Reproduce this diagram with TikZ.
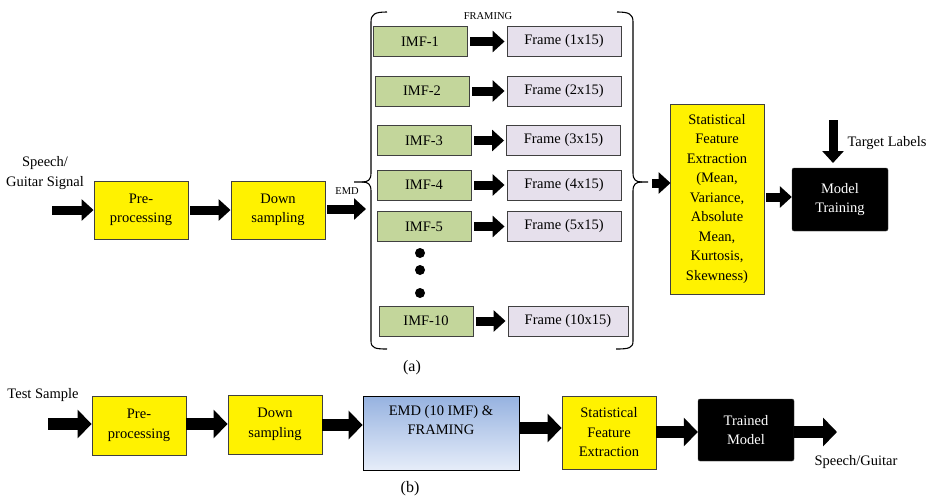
\documentclass[tikz,border=0pt]{standalone}
\usepackage{fontspec}
\setmainfont{Liberation Serif}
\usetikzlibrary{arrows.meta,shadings}
\definecolor{imfgreen}{RGB}{195,214,155}
\definecolor{frmlav}{RGB}{230,224,236}
\definecolor{boxline}{RGB}{64,64,64}
\definecolor{emdtop}{RGB}{150,178,224}
\definecolor{emdbot}{RGB}{230,237,249}
\begin{document}
\begin{tikzpicture}[x=1pt,y=-1pt,
  txt/.style={font=\fontsize{14.5}{19.5}\selectfont, align=center, inner sep=0pt},
  small/.style={font=\fontsize{10.5}{12}\selectfont, inner sep=0pt},
  yelbox/.style={txt, draw=boxline, line width=0.9pt, fill=yellow, minimum width=94pt},
  imfbox/.style={txt, draw=boxline, line width=0.9pt, fill=imfgreen, minimum width=94pt, minimum height=30pt},
  frmbox/.style={txt, draw=boxline, line width=0.9pt, fill=frmlav, minimum width=114pt, minimum height=30pt},
  blkbox/.style={txt, draw=boxline, fill=black, text=white, rounded corners=2pt, minimum width=96pt},
  barrow/.style={line width=9pt, -{Triangle[length=12pt,width=21pt]}},
  barrowb/.style={line width=12pt, -{Triangle[length=14pt,width=28pt]}},
  bracel/.style={line width=1.1pt}
]
\useasboundingbox (0,0) rectangle (931,498);

% ---------- (a) ----------
\node[txt] (sig) at (45,173) {Speech/\\Guitar Signal};
\node[yelbox, minimum height=58pt] (pre) at (141,210) {Pre-\\processing};
\node[yelbox, minimum height=58pt] (down) at (278,210) {Down\\sampling};
\coordinate (in1) at (52,210);
\coordinate (emdtip) at (366,209);
\draw[barrow] (in1) -- (pre.west);
\draw[barrow] ([xshift=2pt]pre.east) -- (down.west);
\draw[barrow] ([xshift=2pt]down.east |- emdtip) -- (emdtip);
\node[small] (emdlbl) at (347,191) {EMD};
\node[small] (framlbl) at (488,16) {FRAMING};

\node[imfbox] (imf1) at (420,41.5) {IMF-1};
\node[imfbox] (imf2) at (422,91) {IMF-2};
\node[imfbox] (imf3) at (424,140.5) {IMF-3};
\node[imfbox] (imf4) at (424,185) {IMF-4};
\node[imfbox] (imf5) at (424,226.5) {IMF-5};
\node[imfbox] (imf10) at (426,321) {IMF-10};

\node[frmbox] (f1) at (564,41.5) {Frame (1x15)};
\node[frmbox] (f2) at (564,91) {Frame (2x15)};
\node[frmbox] (f3) at (563.5,140.5) {Frame (3x15)};
\node[frmbox] (f4) at (564,185) {Frame (4x15)};
\node[frmbox] (f5) at (564,226.5) {Frame (5x15)};
\node[frmbox, minimum width=120pt] (f10) at (568,321) {Frame (10x15)};

\foreach \i in {1,2,3,4,5,10}{
  \draw[barrow] ([xshift=3pt]imf\i.east) -- ([xshift=-2pt]f\i.west);
}
\fill (420,253) circle (5pt);
\fill (420,270) circle (5pt);
\fill (420,293) circle (5pt);

% braces
\draw[bracel] (387,12) .. controls (375,12) and (371,14) .. (371,22) -- (371,173)
  .. controls (371,180) and (368,182) .. (362,182) -- (354,182);
\draw[bracel] (362,182) .. controls (368,182) and (371,184) .. (371,191) -- (371,341)
  .. controls (371,348) and (375,349) .. (387,349);
\draw[bracel] (617,12) .. controls (629,12) and (633,14) .. (633,22) -- (633,173)
  .. controls (633,180) and (636,182) .. (642,182) -- (648,182);
\draw[bracel] (642,182) .. controls (636,182) and (633,184) .. (633,191) -- (633,341)
  .. controls (633,348) and (629,349) .. (616,349);

\node[yelbox, minimum height=190pt] (stats) at (717,199)
  {Statistical\\Feature\\Extraction\\(Mean,\\Variance,\\Absolute\\Mean,\\Kurtosis,\\Skewness)};
\coordinate (rb) at (652,183);
\draw[barrow] (rb) -- ([xshift=1pt]stats.west |- rb);

\node[blkbox, minimum height=63pt] (model) at (840,199.5) {Model\\Training};
\draw[barrow] ([xshift=2pt]stats.east |- 0,197) -- (model.west |- 0,197);
\coordinate (tl) at (833,120);
\draw[barrow] (tl) -- (833,163);
\node[txt] (tlbl) at (887,143) {Target Labels};
\node[txt, font=\fontsize{16}{18}\selectfont] (capa) at (412,368) {(a)};

% ---------- (b) ----------
\node[txt] (test) at (43,395) {Test Sample};
\node[yelbox, minimum height=59pt] (pre2) at (139,425.5) {Pre-\\processing};
\node[yelbox, minimum height=59pt] (down2) at (275,424.5) {Down\\sampling};
\node[draw=black, line width=0.8pt, top color=emdtop, bottom color=emdbot,
  minimum width=156pt, minimum height=74pt, inner sep=0pt] (emd2) at (441,433) {};
\node[txt] (emd2txt) at (441,420) {EMD (10 IMF) \&\\FRAMING};
\node[yelbox, minimum height=73pt] (stats2) at (609,432.5) {Statistical\\Feature\\Extraction};
\node[blkbox, minimum height=62pt] (trained) at (746,430) {Trained\\Model};
\coordinate (in2) at (48,424);
\coordinate (out2) at (837,432);
\draw[barrowb] (in2) -- (pre2.west |- in2);
\draw[barrowb] (pre2.east |- 0,424) -- (down2.west |- 0,424);
\draw[barrowb] (down2.east |- 0,425) -- (emd2.west |- 0,425);
\draw[barrowb] (emd2.east |- 0,428) -- (stats2.west |- 0,428);
\draw[barrowb] (stats2.east |- 0,432) -- (trained.west |- 0,432);
\draw[barrowb] (trained.east |- out2) -- (out2);
\node[txt] (sg) at (856,462) {Speech/Guitar};
\node[txt, font=\fontsize{16}{18}\selectfont] (capb) at (410,489) {(b)};
\end{tikzpicture}
\end{document}
